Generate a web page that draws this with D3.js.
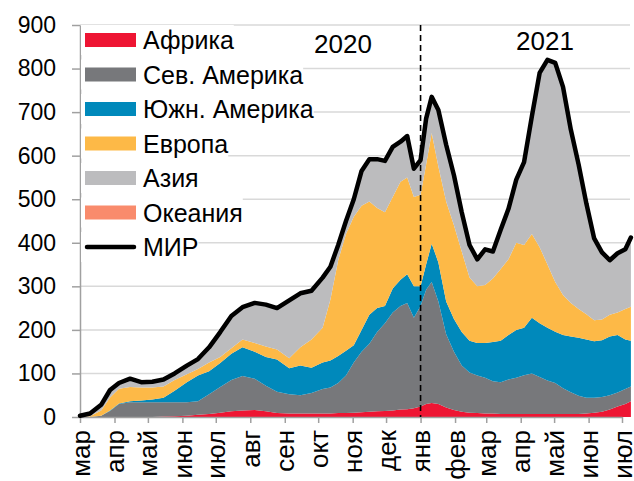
<!DOCTYPE html>
<html>
<head>
<meta charset="utf-8">
<script src="https://cdn.jsdelivr.net/npm/d3@7"></script>
<style>
  body { margin: 0; background: #fff; }
  text { font-family: "Liberation Sans", Arial, sans-serif; fill: #000; }
</style>
</head>
<body>
<svg></svg>
<script>
// size
const WIDTH = 634;
const HEIGHT = 481;
const LEFT = 80, RIGHT = 622, TOP = 25, BOTTOM = 417;

// data
const dates = [
  '2020-03-01','2020-03-10','2020-03-20','2020-03-28','2020-04-05','2020-04-15','2020-04-25','2020-05-05',
  '2020-05-15','2020-05-25','2020-06-05','2020-06-15','2020-06-25','2020-07-05','2020-07-15','2020-07-25',
  '2020-08-05','2020-08-15','2020-08-25','2020-09-05','2020-09-15','2020-09-25','2020-10-05','2020-10-12',
  '2020-10-19','2020-10-26','2020-11-02','2020-11-09','2020-11-16','2020-11-23','2020-11-30','2020-12-07',
  '2020-12-14','2020-12-20','2020-12-26','2021-01-01','2021-01-06','2021-01-11','2021-01-17','2021-01-24',
  '2021-01-31','2021-02-07','2021-02-14','2021-02-21','2021-02-28','2021-03-07','2021-03-14','2021-03-21',
  '2021-03-28','2021-04-04','2021-04-11','2021-04-18','2021-04-25','2021-05-02','2021-05-09','2021-05-16',
  '2021-05-23','2021-05-30','2021-06-06','2021-06-13','2021-06-20','2021-06-27','2021-07-04','2021-07-09'
];
const africa = [0,0,0,0,0,0,0,0,1,2, 3,5,7,10,13,15,16,13,9,8, 8,8,8,8,9,9,10,11,12,13,
  14,15,17,18,20,24,30,32,30,22, 16,12,10,9,8,8,7,7,7,7, 7,7,7,7,7,7,7,8,10,12, 17,24,30,36];
const northAmerica = [0,0,3,14,30,34,34,34,33,32, 31,31,45,59,72,79,72,59,49,44, 42,47,56,60,69,86,115,139,156,182,
  201,225,238,244,208,231,262,278,235,168, 134,106,92,86,82,74,73,79,83,89, 93,85,77,71,59,50,42,36,34,34, 33,32,34,34];
const southAmerica = [0,0,0,1,1,2,4,6,10,26, 46,59,53,55,60,66,62,66,74,60, 68,58,61,62,62,57,40,50,67,55,
  40,55,60,66,72,45,58,88,90,75, 75,77,73,75,80,90,95,102,110,109, 128,123,121,118,122,128,133,134,130,130, 135,132,114,105];
const europe = [0,2,12,30,34,33,30,28,26,25, 18,15,20,14,13,18,20,24,23,23, 42,65,80,140,220,268,295,285,260,230,
  215,210,225,222,205,210,230,254,220,230, 215,185,145,130,133,146,165,174,200,190, 192,175,145,114,92,77,66,58,48,48, 50,52,70,78];
const asia = [3,6,13,17,13,19,12,13,16,15, 20,23,35,57,74,73,91,95,94,133, 124,112,115,75,35,30,40,80,97,112,
  118,115,92,95,65,80,105,83,130,130, 115,90,75,62,82,62,90,116,145,190, 270,400,470,503,478,398,332,254,188,154, 125,136,137,159];
const oceania = [0,0,0,0,0,0,0,0,0,0, 0,0,0,0,0,1,1,1,1,0, 0,0,0,0,0,0,0,0,0,0,
  0,0,0,0,0,0,0,0,0,0, 0,0,0,0,0,0,0,0,0,0, 0,0,0,0,0,0,0,0,0,0, 0,0,0,0];

const monthLabels = ['мар','апр','май','июн','июл','авг','сен','окт','ноя','дек',
  'янв','фев','мар','апр','май','июн','июл'];
const yTicks = [0,100,200,300,400,500,600,700,800,900];

const keys = ['africa','northAmerica','southAmerica','europe','asia','oceania'];
const legendNames = ['Африка','Сев. Америка','Южн. Америка','Европа','Азия','Океания'];
const colors = ['#EE1533','#77787B','#0089BB','#FDB947','#BCBCBE','#F98B6C'];

const parse = d3.timeParse('%Y-%m-%d');
const rows = dates.map((d, i) => ({
  date: parse(d),
  africa: africa[i], northAmerica: northAmerica[i], southAmerica: southAmerica[i],
  europe: europe[i], asia: asia[i], oceania: oceania[i]
}));

const svg = d3.select('svg').attr('width', WIDTH).attr('height', HEIGHT);

const x = d3.scaleTime()
  .domain([new Date(2020, 2, 1), new Date(2021, 6, 1)])
  .range([LEFT, RIGHT]);
const y = d3.scaleLinear().domain([0, 900]).range([BOTTOM, TOP]);

// grid
svg.append('g').selectAll('line')
  .data(yTicks.filter(d => d > 0)).enter().append('line')
  .attr('x1', LEFT).attr('x2', 630)
  .attr('y1', d => y(d)).attr('y2', d => y(d))
  .attr('stroke', '#D9D9D9').attr('stroke-width', 1.5);

// stacked areas
const stack = d3.stack().keys(keys);
const series = stack(rows);
const area = d3.area()
  .x(d => x(d.data.date))
  .y0(d => y(d[0]))
  .y1(d => y(d[1]));

svg.append('g').selectAll('path')
  .data(series).enter().append('path')
  .attr('d', area)
  .attr('fill', (d, i) => colors[i]);

// axes
const xAxis = svg.append('g')
  .attr('transform', `translate(0,${BOTTOM})`)
  .call(d3.axisBottom(x)
    .tickValues(d3.timeMonth.range(new Date(2020, 2, 1), new Date(2021, 6, 2)))
    .tickSize(6).tickSizeOuter(0)
    .tickFormat((d, i) => monthLabels[i]));
xAxis.selectAll('text')
  .attr('transform', 'rotate(-90)')
  .attr('x', -13).attr('y', 0).attr('dy', '0.35em')
  .style('text-anchor', 'end')
  .attr('font-size', 26);

const yAxis = svg.append('g')
  .attr('transform', `translate(${LEFT},0)`)
  .call(d3.axisLeft(y).tickValues(yTicks).tickSize(8).tickSizeOuter(0).tickPadding(16));
yAxis.selectAll('text').attr('font-size', 23);

svg.selectAll('.domain, .tick line').attr('stroke', '#A0A0A0').attr('stroke-width', 1.5);

// dashed year separator
svg.append('line')
  .attr('x1', x(new Date(2021, 0, 1))).attr('x2', x(new Date(2021, 0, 1)))
  .attr('y1', TOP).attr('y2', BOTTOM)
  .attr('stroke', '#000').attr('stroke-width', 1.6)
  .attr('stroke-dasharray', '6,4');

// world total line
const world = d3.line()
  .x(d => x(d.date))
  .y(d => y(keys.reduce((s, k) => s + d[k], 0)));
svg.append('path')
  .datum(rows)
  .attr('d', world)
  .attr('fill', 'none')
  .attr('stroke', '#000')
  .attr('stroke-width', 4.5)
  .attr('stroke-linejoin', 'round')
  .attr('stroke-linecap', 'round');

// year labels
svg.append('text').attr('x', 343).attr('y', 53).attr('text-anchor', 'middle')
  .attr('font-size', 26).text('2020');
svg.append('text').attr('x', 545).attr('y', 50).attr('text-anchor', 'middle')
  .attr('font-size', 26).text('2021');

// legend
const legend = svg.append('g').attr('transform', 'translate(85,40)');
const items = legendNames.concat(['МИР']);
items.forEach((name, i) => {
  const g = legend.append('g').attr('transform', `translate(0,${i * 34.5})`);
  const bg = g.append('rect').attr('fill', '#fff');
  if (i < legendNames.length) {
    g.append('rect').attr('x', 0).attr('y', -7).attr('width', 51).attr('height', 14)
      .attr('fill', colors[i]);
  } else {
    g.append('line').attr('x1', 2).attr('x2', 49).attr('y1', 0).attr('y2', 0)
      .attr('stroke', '#000').attr('stroke-width', 4.5).attr('stroke-linecap', 'round');
  }
  const t = g.append('text').attr('x', 58).attr('y', 0).attr('dy', '0.36em')
    .attr('font-size', 25).text(name);
  const w = t.node().getComputedTextLength();
  bg.attr('x', -4).attr('y', -15).attr('width', 58 + w + 4).attr('height', 30);
});
</script>
</body>
</html>
